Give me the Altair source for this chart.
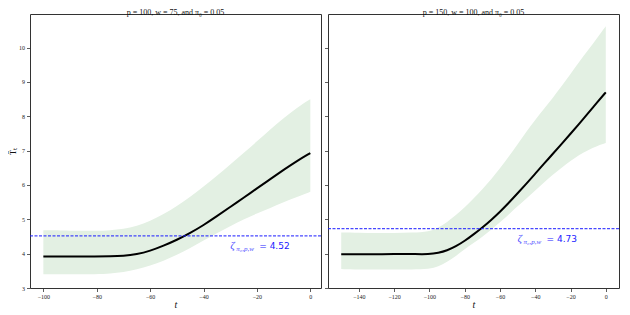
import altair as alt
import pandas as pd

# ---------------- data ----------------
t_left = [-100, -90, -80, -75, -70, -65, -60, -55, -50, -45, -40, -35, -30, -25, -20, -15, -10, -5, 0]
mean_left = [3.92, 3.92, 3.92, 3.92, 3.93, 3.98, 4.08, 4.23, 4.40, 4.60, 4.83, 5.09, 5.36, 5.63, 5.90, 6.17, 6.44, 6.70, 6.93]
hi_left = [4.68, 4.67, 4.66, 4.68, 4.72, 4.80, 4.95, 5.15, 5.38, 5.65, 5.95, 6.27, 6.60, 6.93, 7.27, 7.62, 7.95, 8.25, 8.50]
lo_left = [3.40, 3.40, 3.40, 3.42, 3.46, 3.54, 3.65, 3.79, 3.96, 4.16, 4.38, 4.60, 4.80, 5.00, 5.17, 5.33, 5.50, 5.65, 5.80]

t_right = [-150, -140, -130, -120, -110, -100, -95, -90, -85, -80, -75, -70, -65, -60, -55, -50, -45, -40, -35, -30, -25, -20, -15, -10, -5, 0]
mean_right = [3.98, 3.98, 3.98, 3.99, 3.99, 3.98, 4.02, 4.09, 4.21, 4.37, 4.56, 4.76, 4.98, 5.22, 5.48, 5.76, 6.04, 6.33, 6.62, 6.91, 7.20, 7.49, 7.79, 8.09, 8.40, 8.70]
hi_right = [4.62, 4.61, 4.60, 4.60, 4.61, 4.64, 4.75, 4.92, 5.12, 5.35, 5.60, 5.87, 6.16, 6.48, 6.83, 7.19, 7.55, 7.90, 8.22, 8.54, 8.88, 9.23, 9.59, 9.93, 10.27, 10.62]
lo_right = [3.55, 3.54, 3.54, 3.54, 3.54, 3.55, 3.62, 3.76, 3.93, 4.13, 4.31, 4.49, 4.69, 4.91, 5.14, 5.38, 5.61, 5.84, 6.07, 6.30, 6.50, 6.70, 6.88, 7.02, 7.13, 7.22]

zeta_left = 4.52
zeta_right = 4.73
label_t_left = -30
label_t_right = -50

xticks_left = [-100, -80, -60, -40, -20, 0]
xticks_right = [-140, -120, -100, -80, -60, -40, -20, 0]
yticks = [3, 4, 5, 6, 7, 8, 9, 10]

title_left = "p = 100,  w = 75,  and π₀ = 0.05"
title_right = "p = 150,  w = 100,  and π₀ = 0.05"

SERIF = "Liberation Serif"
BLUE = "#1a1aff"


def panel(t, mean, lo, hi, zeta, label_t, xdomain, xticks, title, first):
    df = pd.DataFrame({"t": t, "mean": mean, "lo": lo, "hi": hi})
    x = alt.X("t:Q",
              scale=alt.Scale(domain=xdomain, nice=False, zero=False),
              axis=alt.Axis(values=xticks, title="t", titleFontStyle="italic",
                            titleFontSize=10, titleFont=SERIF, titleFontWeight="normal",
                            titlePadding=0, labelExpr="replace(datum.label, '-', '−')"))
    yscale = alt.Scale(domain=[3, 10.98], nice=False, zero=False)
    if first:
        yaxis = alt.Axis(values=yticks, title="T̂ₜ", titleFont=SERIF, titleFontSize=9,
                         titleFontWeight="normal", titlePadding=1, labelOverlap=False,
                         tickCount=8)
    else:
        yaxis = alt.Axis(values=yticks, labels=False, title=None, labelOverlap=False,
                         tickCount=8)

    band = alt.Chart(df).mark_area(color="#e3f0e3", interpolate="basis").encode(
        x=x, y=alt.Y("lo:Q", scale=yscale, axis=yaxis), y2="hi:Q")
    line = alt.Chart(df).mark_line(color="black", strokeWidth=2, interpolate="basis").encode(
        x="t:Q", y="mean:Q")

    zdf = pd.DataFrame({"z": [zeta], "t": [label_t],
                        "num": ["= " + format(zeta, ".2f")]})
    rule = alt.Chart(zdf).mark_rule(color=BLUE, strokeDash=[3, 1.5], strokeWidth=1.2,
                                    opacity=0.8).encode(y="z:Q")
    zeta_txt = alt.Chart(zdf).mark_text(text="ζ", font=SERIF, fontStyle="italic", fontSize=11,
                                        color=BLUE, align="left", baseline="middle", dy=10,
                                        opacity=0.8).encode(x="t:Q", y="z:Q")
    sub_txt = alt.Chart(zdf).mark_text(text="π₀,p,w", font=SERIF, fontStyle="italic", fontSize=7,
                                       color=BLUE, align="left", baseline="middle", dx=6, dy=13,
                                       opacity=0.8).encode(x="t:Q", y="z:Q")
    num_txt = alt.Chart(zdf).mark_text(font="DejaVu Sans", fontSize=9, color=BLUE, align="left",
                                       baseline="middle", dx=29, dy=10).encode(
        x="t:Q", y="z:Q", text="num:N")

    return alt.layer(band, line, rule, zeta_txt, sub_txt, num_txt).properties(
        width=291, height=274, title=title)


left = panel(t_left, mean_left, lo_left, hi_left, zeta_left, label_t_left,
             [-105, 4], xticks_left, title_left, True)
right = panel(t_right, mean_right, lo_right, hi_right, zeta_right, label_t_right,
              [-157.5, 7.5], xticks_right, title_right, False)

chart = alt.hconcat(left, right, spacing=0).properties(
    padding={"left": 0, "top": 0, "right": 0, "bottom": 0}
).configure_view(
    stroke="#333", strokeWidth=1
).configure_axis(
    grid=False, domain=False, tickColor="#333", tickSize=3.5, tickWidth=0.8,
    labelFont=SERIF, labelFontSize=6, labelColor="#222", labelPadding=2,
    titleColor="#111"
).configure_title(
    font=SERIF, fontSize=8, fontWeight="normal", offset=-3, color="#111"
)

chart.save("out.html", embed_options={"renderer": "svg", "actions": False})
